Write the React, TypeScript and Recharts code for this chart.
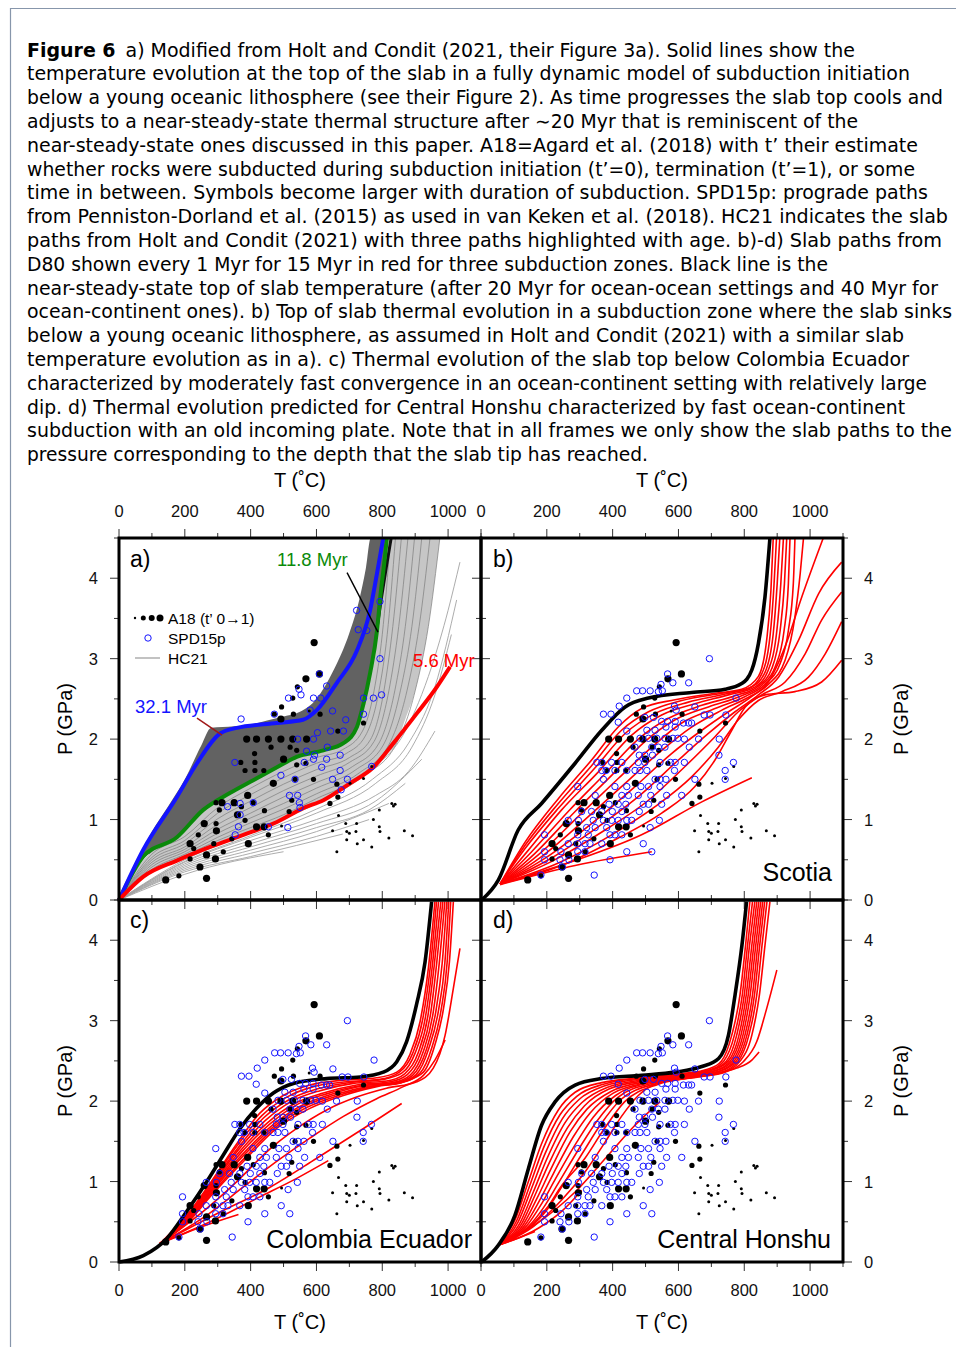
import React from "react";
import { ComposedChart, Line, Scatter, Area, XAxis, YAxis } from "recharts";

const SANS = "'Liberation Sans', Arial, Helvetica, sans-serif";
const CAPTION_FONT = "'DejaVu Sans Condensed', 'Liberation Sans Narrow', 'DejaVu Sans', sans-serif";

const M = 60; // room around each plot box for ticks and labels
const BOX = 362;
const T_TICKS = [0, 100, 200, 300, 400, 500, 600, 700, 800, 900, 1000, 1100];
const P_TICKS = [0, 0.5, 1, 1.5, 2, 2.5, 3, 3.5, 4, 4.5];

// ---- caption ----
const CAPTION = [
  "a) Modified from Holt and Condit (2021, their Figure 3a). Solid lines show the",
  "temperature evolution at the top of the slab in a fully dynamic model of subduction initiation",
  "below a young oceanic lithosphere (see their Figure 2). As time progresses the slab top cools and",
  "adjusts to a near-steady-state thermal structure after \u223c20 Myr that is reminiscent of the",
  "near-steady-state ones discussed in this paper. A18=Agard et al. (2018) with t\u2019 their estimate",
  "whether rocks were subducted during subduction initiation (t\u2019=0), termination (t\u2019=1), or some",
  "time in between. Symbols become larger with duration of subduction. SPD15p: prograde paths",
  "from Penniston-Dorland et al. (2015) as used in van Keken et al. (2018). HC21 indicates the slab",
  "paths from Holt and Condit (2021) with three paths highlighted with age. b)-d) Slab paths from",
  "D80 shown every 1 Myr for 15 Myr in red for three subduction zones. Black line is the",
  "near-steady-state top of slab temperature (after 20 Myr for ocean-ocean settings and 40 Myr for",
  "ocean-continent ones). b) Top of slab thermal evolution in a subduction zone where the slab sinks",
  "below a young oceanic lithosphere, as assumed in Holt and Condit (2021) with a similar slab",
  "temperature evolution as in a). c) Thermal evolution of the slab top below Colombia Ecuador",
  "characterized by moderately fast convergence in an ocean-continent setting with relatively large",
  "dip. d) Thermal evolution predicted for Central Honshu characterized by fast ocean-continent",
  "subduction with an old incoming plate. Note that in all frames we only show the slab paths to the",
  "pressure corresponding to the depth that the slab tip has reached.",
];
const CAPTION_END = [855, 910, 943, 858, 918, 915, 928, 948, 942, 828, 938, 952, 904, 909, 927, 905, 952, 648];

// ---- panel a: Holt & Condit paths ----
const BLUE_32 = [[0, 0], [73, 0.62], [176, 1.28], [237, 1.7], [307, 2.07], [358, 2.14], [480, 2.2], [559, 2.24], [601, 2.36], [662, 2.7], [723, 3.1], [763, 3.6], [784, 4.06], [803, 4.5]];
const GREEN_118 = [[0, 0], [74, 0.54], [176, 0.78], [256, 1.12], [337, 1.33], [408, 1.49], [480, 1.65], [540, 1.78], [621, 1.86], [682, 1.95], [723, 2.15], [743, 2.44], [763, 2.82], [784, 3.35], [794, 3.77], [808, 4.26], [814, 4.5]];
const RED_56 = [[0, 0], [74, 0.29], [176, 0.49], [277, 0.66], [378, 0.81], [480, 0.97], [559, 1.14], [621, 1.24], [702, 1.45], [773, 1.65], [834, 1.95], [905, 2.32], [966, 2.65], [1006, 2.9]];
const DARK_TOP = [[783, 3.35], [798, 3.77], [814, 4.18], [827, 4.5]];
const POINTER_118 = [[693, 4.07], [787, 3.33]];
const POINTER_321 = [[237, 2.26], [313, 2.05]];

// dense HC21 bundle: T, lower P, upper P
const DARK_BAND = [
  [0, 0, 0], [30, 0.22, 0.27], [75, 0.54, 0.65], [100, 0.58, 0.85], [150, 0.71, 1.17], [200, 0.84, 1.5],
  [250, 1.1, 1.92], [280, 1.18, 2.14], [350, 1.36, 2.16], [400, 1.47, 2.18], [450, 1.58, 2.23], [500, 1.69, 2.28],
  [550, 1.79, 2.34], [600, 1.84, 2.5], [650, 1.9, 2.84], [700, 2.02, 3.32], [730, 2.24, 3.73], [750, 2.55, 4.12],
  [765, 2.85, 4.5], [785, 3.38, 4.5], [800, 3.95, 4.5], [815, 4.5, 4.5],
];
const LIGHT_BAND = [
  [0, 0, 0], [50, 0.2, 0.37], [100, 0.34, 0.6], [150, 0.44, 0.72], [200, 0.53, 0.86], [250, 0.61, 1.1],
  [300, 0.7, 1.22], [350, 0.77, 1.36], [400, 0.85, 1.47], [450, 0.92, 1.58], [500, 1.01, 1.69], [550, 1.12, 1.79],
  [600, 1.21, 1.84], [650, 1.3, 1.9], [700, 1.44, 2.02], [740, 1.55, 2.4], [760, 1.6, 2.74], [780, 1.68, 3.24],
  [800, 1.76, 3.95], [814, 1.82, 4.5], [840, 1.92, 4.5], [870, 2.25, 4.5], [900, 2.6, 4.5], [940, 3.4, 4.5], [975, 4.5, 4.5],
];
const HC21_MID = [
  [[0, 0], [100, 0.57], [200, 0.79], [300, 1.15], [400, 1.39], [500, 1.6], [600, 1.77], [680, 1.87], [740, 2.1], [775, 2.6], [800, 3.3], [825, 4.5]],
  [[0, 0], [100, 0.53], [200, 0.74], [300, 1.08], [400, 1.31], [500, 1.52], [600, 1.7], [690, 1.82], [750, 2.05], [790, 2.6], [815, 3.3], [840, 4.5]],
  [[0, 0], [100, 0.5], [200, 0.7], [300, 1.01], [400, 1.23], [500, 1.44], [600, 1.62], [700, 1.77], [765, 2.0], [805, 2.6], [832, 3.4], [858, 4.5]],
  [[0, 0], [100, 0.47], [200, 0.66], [300, 0.94], [400, 1.15], [500, 1.36], [600, 1.54], [700, 1.71], [775, 1.97], [820, 2.6], [850, 3.4], [878, 4.5]],
  [[0, 0], [100, 0.44], [200, 0.63], [300, 0.88], [400, 1.08], [500, 1.28], [600, 1.46], [710, 1.66], [790, 1.95], [838, 2.6], [870, 3.4], [898, 4.5]],
  [[0, 0], [100, 0.41], [200, 0.6], [300, 0.83], [400, 1.02], [500, 1.2], [600, 1.39], [720, 1.62], [805, 1.94], [855, 2.6], [890, 3.4], [920, 4.5]],
  [[0, 0], [100, 0.38], [200, 0.57], [300, 0.78], [400, 0.96], [500, 1.13], [600, 1.32], [730, 1.58], [820, 1.93], [875, 2.6], [912, 3.4], [945, 4.5]],
  [[0, 0], [100, 0.36], [200, 0.55], [300, 0.74], [400, 0.9], [500, 1.06], [600, 1.26], [740, 1.54], [840, 1.92], [900, 2.6], [940, 3.4], [975, 4.5]],
];
const HC21_YOUNG = [
  [[0, 0], [200, 0.5], [400, 0.84], [600, 1.2], [760, 1.6], [870, 2.1], [950, 2.9], [1000, 3.6], [1036, 4.2]],
  [[0, 0], [200, 0.48], [400, 0.8], [600, 1.13], [770, 1.5], [880, 1.95], [960, 2.65], [1026, 3.73]],
  [[0, 0], [200, 0.47], [400, 0.78], [600, 1.08], [780, 1.45], [890, 1.9], [960, 2.55], [1010, 3.3]],
  [[0, 0], [200, 0.45], [400, 0.74], [600, 1.0], [780, 1.3], [880, 1.6], [960, 2.1]],
  [[0, 0], [200, 0.43], [400, 0.7], [600, 0.95], [780, 1.23], [920, 1.75]],
  [[0, 0], [200, 0.41], [400, 0.66], [600, 0.9], [760, 1.12], [870, 1.45]],
  [[0, 0], [200, 0.39], [400, 0.62], [600, 0.85], [820, 1.2]],
  [[0, 0], [200, 0.37], [400, 0.58], [600, 0.79], [760, 1.0]],
  [[0, 0], [200, 0.35], [400, 0.54], [680, 0.82]],
  [[0, 0], [200, 0.32], [500, 0.6]],
];

// ---- A18 (T, P, symbol radius) ----
const S = 1.5, MD = 2.6, L = 3.6;
const A18 = [
  [593, 3.2, L], [609, 2.81, L], [568, 2.75, L], [542, 2.65, MD], [494, 2.4, MD], [528, 2.51, MD], [472, 2.31, MD],
  [492, 2.25, L], [530, 2.31, MD], [578, 2.35, S], [611, 2.31, MD], [665, 2.1, MD], [743, 2.2, MD],
  [388, 2.0, L], [418, 2.0, L], [454, 2.0, L], [492, 2.0, L], [528, 2.0, L], [570, 2.0, L], [462, 1.9, MD],
  [520, 1.9, MD], [540, 1.86, MD], [568, 1.7, MD], [500, 1.75, L], [412, 1.82, MD], [413, 1.71, MD], [370, 1.71, MD],
  [383, 1.61, MD], [413, 1.61, MD], [440, 1.61, MD], [469, 1.45, L], [535, 1.5, MD], [591, 1.5, MD], [540, 1.68, MD],
  [295, 1.21, MD], [313, 1.21, L], [350, 1.21, L], [372, 1.16, MD], [391, 1.3, L], [408, 1.21, MD], [442, 1.11, MD],
  [383, 0.99, MD], [360, 1.06, L], [305, 1.12, MD], [259, 0.95, L], [295, 0.95, MD], [296, 0.86, L], [241, 0.81, MD],
  [418, 0.91, L], [441, 0.91, L], [393, 0.7, L], [343, 0.76, MD], [288, 0.7, MD], [317, 0.6, MD], [216, 0.7, L],
  [227, 0.64, MD], [266, 0.56, L], [293, 0.51, L], [216, 0.51, MD], [246, 0.41, L], [182, 0.3, MD], [142, 0.25, L],
  [266, 0.27, L], [454, 0.81, MD], [517, 1.1, MD], [525, 1.24, MD], [662, 1.44, MD], [641, 1.2, MD], [665, 1.28, MD],
  [702, 1.45, S], [743, 1.51, S], [768, 1.66, S], [494, 0.92, S],
  [667, 1.05, S], [689, 0.95, S], [722, 0.95, S], [773, 1.0, S], [791, 1.12, S], [829, 1.2, S], [839, 1.19, S],
  [834, 1.17, S], [791, 0.91, S], [793, 0.85, S], [867, 0.86, S], [892, 0.8, S], [649, 0.86, S], [692, 0.85, S],
  [700, 0.83, S], [720, 0.85, S], [692, 0.75, S], [743, 0.75, S], [724, 0.7, S], [768, 0.66, S], [820, 0.77, S], [662, 0.6, S],
];

// ---- SPD15p prograde points ----
const SPD_A = [
  [722, 3.6], [793, 3.71], [727, 3.36], [753, 3.35], [793, 3.0], [609, 2.81], [631, 2.66], [547, 2.62], [553, 2.55],
  [515, 2.51], [591, 2.51], [613, 2.51], [743, 2.51], [773, 2.51], [798, 2.55], [649, 2.35], [689, 2.24], [371, 2.25],
  [472, 2.31], [581, 2.36], [603, 2.08], [643, 2.1], [682, 2.1], [743, 2.31], [543, 2.0], [591, 2.0], [633, 1.9],
  [570, 1.85], [594, 1.8], [591, 1.75], [563, 1.71], [631, 1.75], [672, 1.8], [616, 1.65], [352, 1.71], [492, 1.55],
  [535, 1.5], [672, 1.61], [649, 1.5], [694, 1.5], [768, 1.66], [675, 1.37], [330, 1.16], [368, 1.2], [408, 1.21],
  [368, 1.06], [518, 1.3], [543, 1.3], [548, 1.21], [550, 1.15], [363, 0.91], [353, 0.81], [454, 0.91], [513, 0.9],
];
const SPD_ALL = [
  [694, 3.0], [567, 2.81], [583, 2.7], [631, 2.7], [547, 2.68], [473, 2.6], [491, 2.6], [514, 2.6], [539, 2.59], [551, 2.6],
  [443, 2.51], [420, 2.41], [372, 2.31], [395, 2.31], [588, 2.41], [593, 2.36], [650, 2.4], [678, 2.3], [696, 2.3], [744, 2.3],
  [775, 2.51], [498, 2.27], [524, 2.27], [549, 2.22], [567, 2.22], [590, 2.22], [615, 2.2], [631, 2.2], [640, 2.2], [562, 2.15],
  [590, 2.15], [417, 2.21], [443, 2.1], [504, 2.11], [529, 2.11], [483, 2.01], [509, 2.01], [534, 2.01], [559, 2.01], [583, 2.01],
  [598, 2.01], [618, 2.0], [661, 2.0], [724, 2.0], [468, 1.9], [519, 1.9], [539, 1.9], [559, 1.9], [633, 1.9], [481, 1.8],
  [498, 1.8], [521, 1.8], [576, 1.71], [590, 1.71], [618, 1.71], [723, 1.8], [767, 1.71], [352, 1.71], [367, 1.71], [397, 1.71],
  [428, 1.71], [478, 1.71], [498, 1.71], [544, 1.71], [588, 1.61], [742, 1.61], [367, 1.61], [380, 1.61], [407, 1.61], [443, 1.61],
  [468, 1.61], [483, 1.61], [504, 1.61], [529, 1.5], [544, 1.5], [562, 1.5], [650, 1.5], [742, 1.5], [294, 1.41], [372, 1.5],
  [407, 1.41], [443, 1.41], [486, 1.41], [509, 1.41], [544, 1.41], [610, 1.3], [428, 1.3], [448, 1.3], [478, 1.3], [516, 1.3],
  [564, 1.3], [347, 1.3], [389, 1.19], [417, 1.19], [440, 1.19], [493, 1.19], [509, 1.19], [549, 1.19], [306, 1.1], [336, 1.1],
  [367, 1.1], [399, 1.1], [428, 1.1], [481, 1.1], [341, 0.99], [372, 0.99], [397, 0.99], [417, 0.99], [443, 0.99], [542, 0.99],
  [265, 0.99], [296, 0.99], [382, 0.9], [458, 0.99], [514, 0.9], [347, 0.9], [321, 0.9], [193, 0.81], [294, 0.81], [326, 0.81],
  [392, 0.81], [407, 0.81], [428, 0.81], [265, 0.7], [294, 0.7], [316, 0.7], [331, 0.7], [367, 0.7], [493, 0.7], [243, 0.6],
  [294, 0.6], [316, 0.6], [193, 0.6], [443, 0.6], [519, 0.6], [193, 0.5], [240, 0.5], [267, 0.5], [392, 0.5], [182, 0.31],
  [344, 0.31], [247, 0.41],
];

// ---- panel b: Scotia ----
const B_STEADY = [[2, 0], [53, 0.25], [113, 0.87], [184, 1.2], [286, 1.7], [367, 2.11], [438, 2.4], [509, 2.51], [640, 2.58], [742, 2.62], [792, 2.69], [823, 2.86], [843, 3.19], [863, 3.77], [878, 4.5]];
const B_PATHS = [
  [[58, 0.2], [134, 0.72], [235, 1.26], [336, 1.74], [417, 2.15], [488, 2.38], [590, 2.49], [711, 2.57], [792, 2.62], [843, 2.78], [868, 3.23], [881, 3.85], [888, 4.5]],
  [[58, 0.2], [134, 0.68], [235, 1.2], [336, 1.67], [427, 2.11], [509, 2.34], [610, 2.48], [732, 2.57], [813, 2.63], [853, 2.81], [878, 3.27], [890, 3.89], [898, 4.5]],
  [[58, 0.2], [134, 0.64], [235, 1.14], [346, 1.64], [438, 2.07], [529, 2.32], [630, 2.46], [742, 2.56], [823, 2.65], [863, 2.83], [888, 3.31], [900, 3.93], [908, 4.5]],
  [[58, 0.2], [144, 0.62], [245, 1.12], [356, 1.59], [458, 2.05], [549, 2.3], [650, 2.44], [752, 2.55], [833, 2.65], [873, 2.86], [899, 3.35], [911, 3.93], [919, 4.5]],
  [[58, 0.2], [154, 0.6], [265, 1.1], [377, 1.57], [478, 2.0], [570, 2.26], [671, 2.42], [772, 2.54], [843, 2.66], [884, 2.88], [909, 3.35], [922, 3.93], [929, 4.5]],
  [[58, 0.2], [164, 0.58], [286, 1.1], [397, 1.55], [498, 1.97], [590, 2.24], [691, 2.4], [792, 2.54], [853, 2.67], [894, 2.9], [921, 3.35], [934, 3.93], [939, 4.5]],
  [[58, 0.2], [174, 0.56], [296, 1.04], [417, 1.51], [519, 1.9], [610, 2.2], [711, 2.38], [803, 2.53], [863, 2.68], [909, 2.94], [934, 3.35], [949, 3.93], [954, 4.5]],
  [[58, 0.2], [184, 0.54], [316, 1.0], [438, 1.45], [549, 1.86], [640, 2.15], [732, 2.36], [813, 2.52], [873, 2.68], [924, 2.98], [954, 3.52], [970, 4.06], [980, 4.5]],
  [[58, 0.2], [195, 0.52], [336, 0.95], [468, 1.41], [579, 1.82], [671, 2.11], [752, 2.34], [823, 2.53], [873, 2.71], [924, 3.15], [975, 3.77], [1040, 4.5]],
  [[58, 0.2], [205, 0.5], [356, 0.91], [488, 1.32], [600, 1.74], [691, 2.07], [772, 2.34], [843, 2.55], [904, 2.77], [965, 3.23], [1026, 3.81], [1096, 4.2]],
  [[58, 0.2], [215, 0.48], [377, 0.87], [509, 1.24], [620, 1.66], [711, 2.03], [782, 2.34], [853, 2.55], [924, 2.71], [985, 3.06], [1035, 3.48], [1096, 3.83]],
  [[58, 0.2], [235, 0.46], [397, 0.81], [529, 1.16], [640, 1.53], [721, 1.9], [782, 2.24], [843, 2.48], [914, 2.59], [995, 2.77], [1046, 3.06], [1096, 3.46]],
  [[58, 0.2], [245, 0.43], [417, 0.77], [549, 1.08], [650, 1.41], [711, 1.74], [762, 2.11], [803, 2.4], [863, 2.55], [954, 2.59], [1035, 2.71], [1096, 2.98]],
  [[58, 0.2], [286, 0.49], [488, 0.81], [671, 1.22], [823, 1.52]],
  [[58, 0.19], [286, 0.43], [519, 0.6]],
];

// ---- panel c: Colombia Ecuador ----
const C_STEADY = [[0, 0], [74, 0.08], [145, 0.29], [206, 0.63], [267, 1.0], [317, 1.33], [368, 1.66], [418, 1.91], [469, 2.1], [530, 2.22], [631, 2.28], [733, 2.3], [803, 2.36], [844, 2.49], [874, 2.74], [904, 3.2], [930, 3.73], [950, 4.48]];
const C_PATHS = [
  [[125, 0.23], [206, 0.58], [277, 0.98], [358, 1.47], [428, 1.85], [499, 2.07], [580, 2.2], [682, 2.26], [783, 2.29], [844, 2.36], [884, 2.58], [915, 2.99], [940, 3.65], [960, 4.48]],
  [[125, 0.23], [207, 0.58], [277, 0.96], [360, 1.45], [434, 1.82], [510, 2.05], [591, 2.18], [692, 2.24], [793, 2.27], [852, 2.36], [892, 2.59], [923, 3.02], [946, 3.67], [965, 4.48]],
  [[125, 0.23], [208, 0.57], [277, 0.94], [362, 1.42], [439, 1.79], [518, 2.02], [601, 2.15], [702, 2.23], [803, 2.27], [860, 2.35], [900, 2.6], [931, 3.04], [952, 3.68], [971, 4.48]],
  [[125, 0.23], [209, 0.56], [277, 0.92], [364, 1.4], [445, 1.76], [526, 2.0], [611, 2.13], [712, 2.22], [813, 2.25], [868, 2.34], [909, 2.6], [939, 3.07], [958, 3.69], [978, 4.48]],
  [[125, 0.23], [210, 0.55], [277, 0.9], [366, 1.37], [451, 1.73], [534, 1.97], [621, 2.1], [722, 2.2], [824, 2.24], [876, 2.33], [917, 2.61], [947, 3.09], [965, 3.7], [984, 4.48]],
  [[125, 0.23], [211, 0.55], [277, 0.88], [369, 1.35], [457, 1.71], [542, 1.96], [631, 2.09], [732, 2.19], [834, 2.23], [884, 2.32], [925, 2.62], [955, 3.11], [973, 3.71], [990, 4.48]],
  [[125, 0.23], [212, 0.54], [277, 0.87], [371, 1.32], [463, 1.69], [552, 1.94], [641, 2.08], [743, 2.19], [844, 2.23], [892, 2.32], [933, 2.63], [963, 3.12], [982, 3.71], [996, 4.48]],
  [[125, 0.23], [213, 0.53], [277, 0.85], [373, 1.3], [469, 1.68], [560, 1.93], [651, 2.07], [753, 2.18], [854, 2.23], [903, 2.33], [941, 2.65], [971, 3.13], [990, 3.71], [1002, 4.48]],
  [[125, 0.23], [214, 0.53], [277, 0.83], [376, 1.27], [474, 1.67], [570, 1.92], [667, 2.07], [768, 2.18], [859, 2.23], [915, 2.35], [951, 2.67], [979, 3.14], [997, 3.72], [1008, 4.48]],
  [[125, 0.23], [216, 0.52], [277, 0.81], [378, 1.25], [479, 1.66], [580, 1.91], [682, 2.07], [783, 2.18], [864, 2.24], [925, 2.36], [960, 2.7], [986, 3.15], [1004, 3.73], [1016, 4.48]],
  [[125, 0.23], [256, 0.63], [358, 1.0], [449, 1.37], [540, 1.66], [631, 1.89], [722, 2.05], [813, 2.16], [905, 2.24], [955, 2.41], [991, 2.82], [1016, 3.4], [1036, 3.9]],
  [[125, 0.23], [266, 0.58], [377, 0.93], [479, 1.25], [580, 1.54], [682, 1.81], [783, 2.03], [864, 2.18], [925, 2.32], [960, 2.51], [991, 2.76]],
  [[125, 0.23], [297, 0.6], [459, 0.93], [601, 1.29], [743, 1.66], [859, 1.97]],
  [[125, 0.23], [277, 0.5], [428, 0.81], [540, 1.04], [636, 1.26]],
  [[125, 0.23], [246, 0.43], [363, 0.59]],
];

// ---- panel d: Central Honshu ----
const D_STEADY = [[2, 0], [53, 0.21], [103, 0.58], [144, 1.16], [184, 1.7], [225, 1.99], [286, 2.2], [367, 2.28], [488, 2.32], [590, 2.36], [671, 2.43], [722, 2.53], [752, 2.82], [772, 3.32], [793, 3.94], [807, 4.48]];
const D_PATHS = [
  [[53, 0.21], [103, 0.52], [144, 1.0], [184, 1.47], [235, 1.89], [286, 2.11], [367, 2.23], [488, 2.29], [610, 2.34], [691, 2.4], [731, 2.5], [762, 2.82], [787, 3.32], [804, 3.94], [817, 4.48]],
  [[53, 0.21], [108, 0.51], [149, 0.96], [189, 1.41], [240, 1.83], [291, 2.06], [372, 2.21], [493, 2.29], [615, 2.34], [696, 2.39], [738, 2.5], [770, 2.82], [794, 3.32], [810, 3.94], [825, 4.48]],
  [[53, 0.21], [113, 0.5], [154, 0.92], [195, 1.35], [247, 1.78], [298, 2.02], [377, 2.19], [498, 2.28], [620, 2.33], [701, 2.39], [746, 2.5], [777, 2.82], [800, 3.32], [816, 3.94], [832, 4.48]],
  [[53, 0.21], [119, 0.49], [159, 0.87], [201, 1.29], [255, 1.73], [306, 1.98], [383, 2.17], [503, 2.27], [625, 2.33], [706, 2.39], [752, 2.5], [784, 2.82], [806, 3.32], [823, 3.94], [838, 4.48]],
  [[53, 0.21], [124, 0.48], [164, 0.83], [207, 1.23], [263, 1.67], [314, 1.94], [389, 2.15], [509, 2.26], [630, 2.32], [711, 2.38], [758, 2.5], [790, 2.82], [812, 3.32], [829, 3.94], [844, 4.48]],
  [[53, 0.21], [129, 0.47], [170, 0.79], [213, 1.16], [271, 1.62], [322, 1.9], [395, 2.12], [514, 2.25], [635, 2.32], [716, 2.38], [764, 2.5], [796, 2.82], [818, 3.32], [835, 3.94], [850, 4.48]],
  [[53, 0.21], [134, 0.46], [176, 0.75], [220, 1.1], [281, 1.56], [331, 1.85], [402, 2.1], [519, 2.24], [640, 2.31], [721, 2.37], [770, 2.5], [802, 2.82], [825, 3.32], [841, 3.94], [856, 4.48]],
  [[53, 0.21], [139, 0.45], [182, 0.71], [227, 1.04], [291, 1.49], [341, 1.8], [409, 2.07], [524, 2.24], [645, 2.31], [726, 2.37], [776, 2.5], [808, 2.82], [831, 3.32], [847, 3.94], [862, 4.48]],
  [[53, 0.21], [144, 0.44], [189, 0.67], [235, 0.98], [301, 1.43], [352, 1.75], [417, 2.05], [529, 2.23], [650, 2.31], [731, 2.36], [782, 2.5], [814, 2.82], [838, 3.32], [854, 3.94], [869, 4.48]],
  [[53, 0.21], [149, 0.43], [197, 0.63], [243, 0.92], [311, 1.37], [362, 1.7], [425, 2.02], [534, 2.22], [655, 2.3], [736, 2.36], [788, 2.5], [823, 2.82], [846, 3.32], [863, 3.94], [878, 4.48]],
  [[53, 0.21], [149, 0.44], [200, 0.67], [247, 0.96], [316, 1.29], [372, 1.64], [436, 1.99], [539, 2.21], [660, 2.3], [742, 2.36], [797, 2.49], [838, 2.74], [868, 3.15], [899, 3.63]],
  [[53, 0.21], [159, 0.44], [245, 0.77], [316, 1.12], [377, 1.49], [427, 1.81], [478, 2.07], [534, 2.22], [620, 2.28], [701, 2.34], [777, 2.41], [823, 2.51], [845, 2.61]],
  [[53, 0.21], [184, 0.52], [286, 0.87], [387, 1.33], [468, 1.7], [544, 1.99]],
  [[53, 0.21], [174, 0.42], [245, 0.63], [306, 0.89]],
  [[53, 0.21], [108, 0.29], [164, 0.38]],
];

const xy = (rows: number[][]) => rows.map(([T, P]) => ({ T, P }));
const band = (rows: number[][]) => rows.map(([T, lo, hi]) => ({ T, band: [lo, hi] }));
const dots = (rows: number[][]) => rows.map(([T, P, r]) => ({ T, P, r }));

const line = (key: string, rows: number[][], stroke: string, width: number, curve: "monotone" | "linear" = "monotone") => (
  <Line key={key} data={xy(rows)} dataKey="P" type={curve} stroke={stroke} strokeWidth={width} dot={false} activeDot={false} isAnimationActive={false} />
);

const blackDot = (p: any) => <circle cx={p.cx} cy={p.cy} r={p.payload.r} fill="#000" />;
const blueRing = (p: any) => <circle cx={p.cx} cy={p.cy} r={3.2} fill="none" stroke="#1515ff" strokeWidth={1} />;

const tickText = { fontSize: 16.5, fontFamily: SANS, fill: "#111" };

// ticks are drawn outward on both opposite sides of the box; labels only on outer sides
const xTick = (top: boolean, bottom: boolean) => (props: any) => {
  const { x, payload } = props;
  const v = payload.value as number;
  const major = v % 200 === 0;
  const len = major ? 9 : 5;
  const show = major && v <= 1000;
  return (
    <g>
      <line x1={x} x2={x} y1={M} y2={M - len} stroke="#333" strokeWidth={1} />
      <line x1={x} x2={x} y1={M + BOX} y2={M + BOX + len} stroke="#333" strokeWidth={1} />
      {show && top && <text x={x} y={M - 21} textAnchor="middle" {...tickText}>{v}</text>}
      {show && bottom && <text x={x} y={M + BOX + 34} textAnchor="middle" {...tickText}>{v}</text>}
    </g>
  );
};

const yTick = (left: boolean, right: boolean) => (props: any) => {
  const { y, payload } = props;
  const v = payload.value as number;
  const major = Number.isInteger(v);
  const len = major ? 9 : 5;
  const show = major && v <= 4;
  return (
    <g>
      <line x1={M} x2={M - len} y1={y} y2={y} stroke="#333" strokeWidth={1} />
      <line x1={M + BOX} x2={M + BOX + len} y1={y} y2={y} stroke="#333" strokeWidth={1} />
      {show && left && <text x={M - 21} y={y + 6} textAnchor="end" {...tickText}>{v}</text>}
      {show && right && <text x={M + BOX + 21} y={y + 6} textAnchor="start" {...tickText}>{v}</text>}
    </g>
  );
};

type PanelProps = { left: number; top: number; tTop: boolean; tBottom: boolean; pLeft: boolean; pRight: boolean; items: React.ReactNode[] };

function Panel({ left, top, tTop, tBottom, pLeft, pRight, items }: PanelProps) {
  // axes are 1px thick bands so they render; margins shrink by the same amount
  return (
    <div style={{ position: "absolute", left: left - M, top: top - M }}>
      <ComposedChart width={BOX + 2 * M} height={BOX + 2 * M} margin={{ top: M, right: M, bottom: M - 1, left: M - 1 }}>
        <XAxis type="number" dataKey="T" domain={[0, 1100]} ticks={T_TICKS} interval={0} height={1} axisLine={false} tickLine={false} tick={xTick(tTop, tBottom)} />
        <YAxis type="number" dataKey="P" domain={[0, 4.5]} ticks={P_TICKS} interval={0} width={1} axisLine={false} tickLine={false} tick={yTick(pLeft, pRight)} />
        {items}
      </ComposedChart>
    </div>
  );
}

const scatterItems = (spd: number[][]) => [
  <Scatter key="a18" data={dots(A18)} dataKey="P" shape={blackDot} isAnimationActive={false} />,
  <Scatter key="spd" data={xy(spd)} dataKey="P" shape={blueRing} isAnimationActive={false} />,
];

const panelAItems = [
  <Area key="dark" data={band(DARK_BAND)} dataKey="band" type="monotone" stroke="none" fill="#626262" fillOpacity={1} dot={false} activeDot={false} isAnimationActive={false} />,
  <Area key="light" data={band(LIGHT_BAND)} dataKey="band" type="monotone" stroke="none" fill="#c6c6c6" fillOpacity={1} dot={false} activeDot={false} isAnimationActive={false} />,
  ...HC21_MID.map((r, i) => line(`mid${i}`, r, "#7c7c7c", 0.7)),
  ...HC21_YOUNG.map((r, i) => line(`young${i}`, r, "#a3a3a3", 0.9)),
  line("darktop", DARK_TOP, "#111", 3),
  ...scatterItems(SPD_A),
  line("green", GREEN_118, "#0a8a0a", 4),
  line("blue", BLUE_32, "#1414ff", 4),
  line("red", RED_56, "#ff0000", 4),
  line("p118", POINTER_118, "#000", 1.4, "linear"),
  line("p321", POINTER_321, "#a01818", 1.5, "linear"),
];

const zoneItems = (paths: number[][][], steady: number[][]) => [
  ...paths.map((r, i) => line(`path${i}`, r, "#ff0000", 1.6)),
  ...scatterItems(SPD_ALL),
  line("steady", steady, "#000", 3.6),
];

const PANELS = [
  { left: 119, top: 538 },
  { left: 481, top: 538 },
  { left: 119, top: 900 },
  { left: 481, top: 900 },
];

export default function App() {
  const label = { fontFamily: SANS, fill: "#000" };
  return (
    <div style={{ position: "absolute", left: 0, top: 0, width: 956, height: 1347, background: "#fff", overflow: "hidden" }}>
      <Panel left={119} top={538} tTop tBottom={false} pLeft pRight={false} items={panelAItems} />
      <Panel left={481} top={538} tTop tBottom={false} pLeft={false} pRight items={zoneItems(B_PATHS, B_STEADY)} />
      <Panel left={119} top={900} tTop={false} tBottom pLeft pRight={false} items={zoneItems(C_PATHS, C_STEADY)} />
      <Panel left={481} top={900} tTop={false} tBottom pLeft={false} pRight items={zoneItems(D_PATHS, D_STEADY)} />

      <svg width={956} height={1347} style={{ position: "absolute", left: 0, top: 0, pointerEvents: "none" }}>
        <path d="M10.5 1347 V8.5 H956" fill="none" stroke="#8796ab" strokeWidth={1.2} />
        {CAPTION.map((txt, i) => (
          <text key={i} x={27} y={56.5 + 23.8 * i} fontSize={19} fontFamily={CAPTION_FONT} fill="#000"
            textLength={CAPTION_END[i] - 27} lengthAdjust="spacingAndGlyphs">
            {i === 0 ? (
              <>
                <tspan fontWeight="bold">Figure 6</tspan>
                <tspan dx={9}>{txt}</tspan>
              </>
            ) : txt}
          </text>
        ))}

        {PANELS.map((p, i) => (
          <rect key={i} x={p.left} y={p.top} width={BOX} height={BOX} fill="none" stroke="#000" strokeWidth={3} />
        ))}

        <text x={300} y={487} textAnchor="middle" fontSize={20} {...label}>T (˚C)</text>
        <text x={662} y={487} textAnchor="middle" fontSize={20} {...label}>T (˚C)</text>
        <text x={300} y={1329} textAnchor="middle" fontSize={20} {...label}>T (˚C)</text>
        <text x={662} y={1329} textAnchor="middle" fontSize={20} {...label}>T (˚C)</text>
        <text x={72} y={719} transform="rotate(-90 72 719)" textAnchor="middle" fontSize={20} {...label}>P (GPa)</text>
        <text x={72} y={1081} transform="rotate(-90 72 1081)" textAnchor="middle" fontSize={20} {...label}>P (GPa)</text>
        <text x={908} y={719} transform="rotate(-90 908 719)" textAnchor="middle" fontSize={20} {...label}>P (GPa)</text>
        <text x={908} y={1081} transform="rotate(-90 908 1081)" textAnchor="middle" fontSize={20} {...label}>P (GPa)</text>

        <text x={130} y={567} fontSize={23} {...label}>a)</text>
        <text x={493} y={567} fontSize={23} {...label}>b)</text>
        <text x={130} y={928} fontSize={23} {...label}>c)</text>
        <text x={493} y={928} fontSize={23} {...label}>d)</text>
        <text x={832} y={881} textAnchor="end" fontSize={25} {...label}>Scotia</text>
        <text x={472} y={1248} textAnchor="end" fontSize={25} {...label}>Colombia Ecuador</text>
        <text x={831} y={1248} textAnchor="end" fontSize={25} {...label}>Central Honshu</text>

        <text x={277} y={566} fontSize={18.5} fontFamily={SANS} fill="#0a8a0a">11.8 Myr</text>
        <text x={413} y={667} fontSize={18.5} fontFamily={SANS} fill="#ff0000">5.6 Myr</text>
        <text x={135} y={713} fontSize={18.5} fontFamily={SANS} fill="#1414ff">32.1 Myr</text>

        <circle cx={135} cy={618} r={1.2} fill="#000" />
        <circle cx={143.3} cy={618} r={2.5} fill="#000" />
        <circle cx={151.7} cy={618} r={3} fill="#000" />
        <circle cx={160} cy={618} r={3.5} fill="#000" />
        <text x={168} y={623.5} fontSize={15.5} {...label}>A18 (t’ 0→1)</text>
        <circle cx={148} cy={638} r={3.2} fill="none" stroke="#1515ff" strokeWidth={1} />
        <text x={168} y={643.5} fontSize={15.5} {...label}>SPD15p</text>
        <line x1={135} x2={160} y1={658} y2={658} stroke="#999" strokeWidth={1.2} />
        <text x={168} y={663.5} fontSize={15.5} {...label}>HC21</text>
      </svg>
    </div>
  );
}
